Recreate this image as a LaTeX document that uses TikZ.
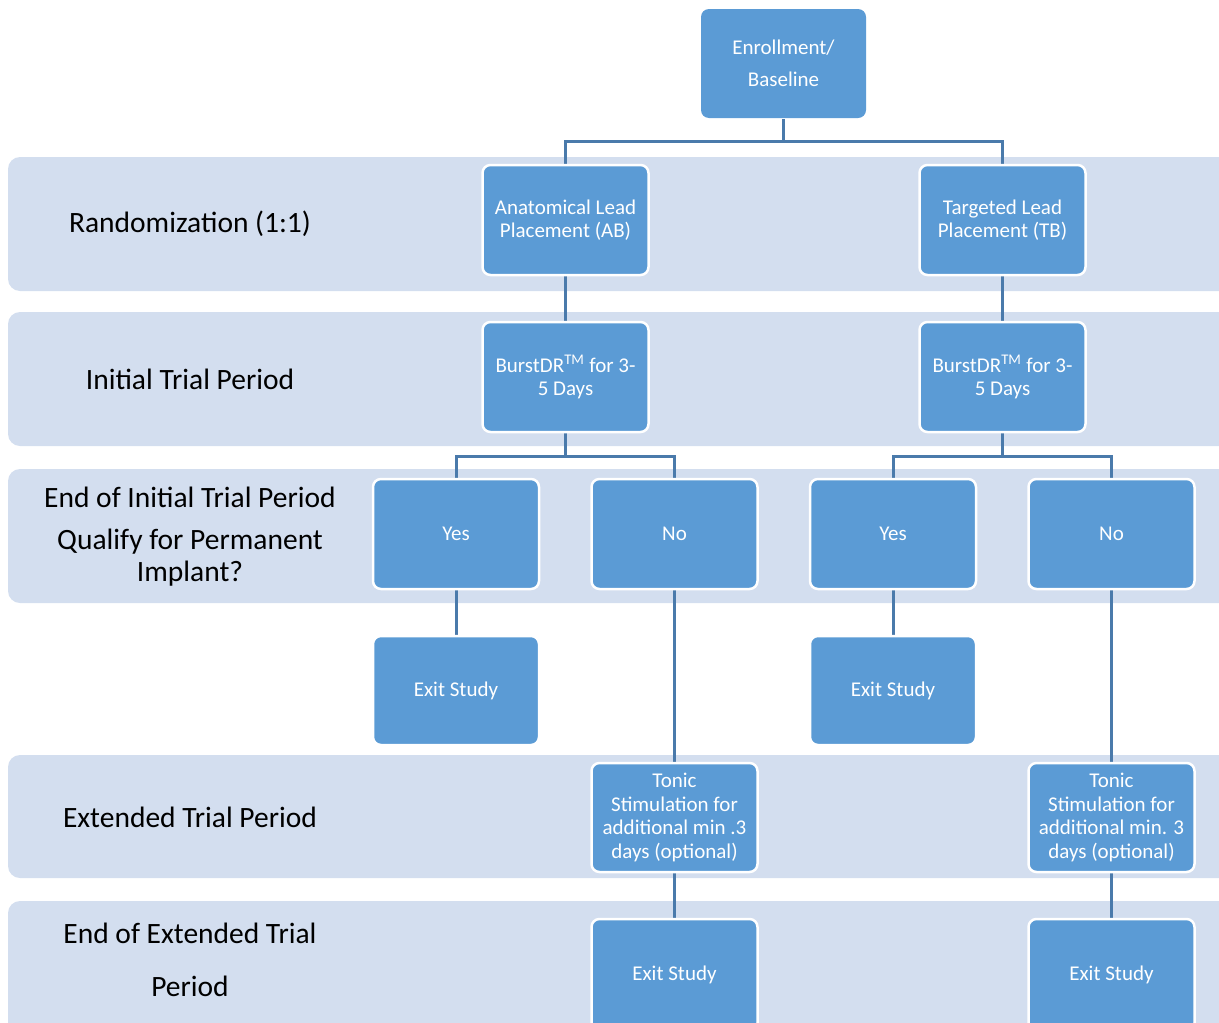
\documentclass[tikz,border=0pt]{standalone}
\usepackage{fontspec}
\setmainfont{Carlito}
\usetikzlibrary{backgrounds}
\definecolor{bandc}{HTML}{D3DEEF}
\definecolor{boxc}{HTML}{5B9BD5}
\definecolor{linec}{HTML}{4A7AAB}
\pgfdeclarelayer{connlayer}
\pgfsetlayers{background,connlayer,main}
\begin{document}
\begin{tikzpicture}[x=1pt,y=-1pt,
  bandbox/.style={fill=bandc, rounded corners=12pt},
  blk/.style={draw=white, line width=2.5pt, fill=boxc, rounded corners=8pt, text=white,
    align=center, font=\fontsize{21}{23.5}\selectfont, inner sep=0pt,
    minimum width=166pt, minimum height=110pt},
  lab/.style={align=center, font=\fontsize{29.5}{32}\selectfont, text=black, inner sep=0pt},
  conn/.style={draw=linec, line width=3pt}]
\useasboundingbox (0,0) rectangle (1219,1023);
\clip (0,0) rectangle (1219,1023);
% bands
\begin{scope}[on background layer]
\fill[bandbox] (8,157) rectangle (1250,291);
\fill[bandbox] (8,312) rectangle (1250,446);
\fill[bandbox] (8,469) rectangle (1250,603);
\fill[bandbox] (8,755) rectangle (1250,878);
\fill[bandbox] (8,901) rectangle (1250,1060);
\end{scope}
% labels
\node[lab] (l1) at (190,224) {Randomization (1:1)};
\node[lab] (l2) at (190,379) {Initial Trial Period};
\node[lab] (l3a) at (190,497) {End of Initial Trial Period};
\node[lab] (l3b) at (190,558) {Qualify for Permanent\\Implant?};
\node[lab] (l4) at (190,817) {Extended Trial Period};
\node[lab] (l5a) at (190,933) {End of Extended Trial};
\node[lab] (l5b) at (190,986) {Period};
% boxes
\node[blk, draw=none, minimum width=165pt, minimum height=109pt, font=\fontsize{21}{32}\selectfont] (enr) at (783.5,63.5) {Enrollment/\\Baseline};
\node[blk] (ab) at (565.5,220) {Anatomical Lead\\Placement (AB)};
\node[blk] (tb) at (1002.5,220) {Targeted Lead\\Placement (TB)};
\node[blk] (b1) at (565.5,377) {BurstDR\textsuperscript{TM} for 3-\\5 Days};
\node[blk] (b2) at (1002.5,377) {BurstDR\textsuperscript{TM} for 3-\\5 Days};
\node[blk] (y1) at (456,534) {Yes};
\node[blk] (n1) at (674.5,534) {No};
\node[blk] (y2) at (893,534) {Yes};
\node[blk] (n2) at (1111.5,534) {No};
\node[blk, minimum height=109pt] (e1) at (456,690.5) {Exit Study};
\node[blk, minimum height=109pt] (e2) at (893,690.5) {Exit Study};
\node[blk, minimum height=109pt] (t1) at (674.5,817.5) {Tonic\\Stimulation for\\additional min .3\\days (optional)};
\node[blk, minimum height=109pt] (t2) at (1111.5,817.5) {Tonic\\Stimulation for\\additional min. 3\\days (optional)};
\node[blk, minimum height=112pt] (x1) at (674.5,975) {Exit Study};
\node[blk, minimum height=112pt] (x2) at (1111.5,975) {Exit Study};
% connectors
\coordinate (j0) at (783.5,141);
\coordinate (j1) at (565.5,456);
\coordinate (j2) at (1002.5,456);
\begin{pgfonlayer}{connlayer}
\draw[conn] (enr.south) -- (j0);
\draw[conn] (j0) -| (ab.north);
\draw[conn] (j0) -| (tb.north);
\draw[conn] (ab.south) -- (b1.north);
\draw[conn] (tb.south) -- (b2.north);
\draw[conn] (b1.south) -- (j1);
\draw[conn] (j1) -| (y1.north);
\draw[conn] (j1) -| (n1.north);
\draw[conn] (b2.south) -- (j2);
\draw[conn] (j2) -| (y2.north);
\draw[conn] (j2) -| (n2.north);
\draw[conn] (y1.south) -- (e1.north);
\draw[conn] (y2.south) -- (e2.north);
\draw[conn] (n1.south) -- (t1.north);
\draw[conn] (n2.south) -- (t2.north);
\draw[conn] (t1.south) -- (x1.north);
\draw[conn] (t2.south) -- (x2.north);
\end{pgfonlayer}
\end{tikzpicture}
\end{document}
